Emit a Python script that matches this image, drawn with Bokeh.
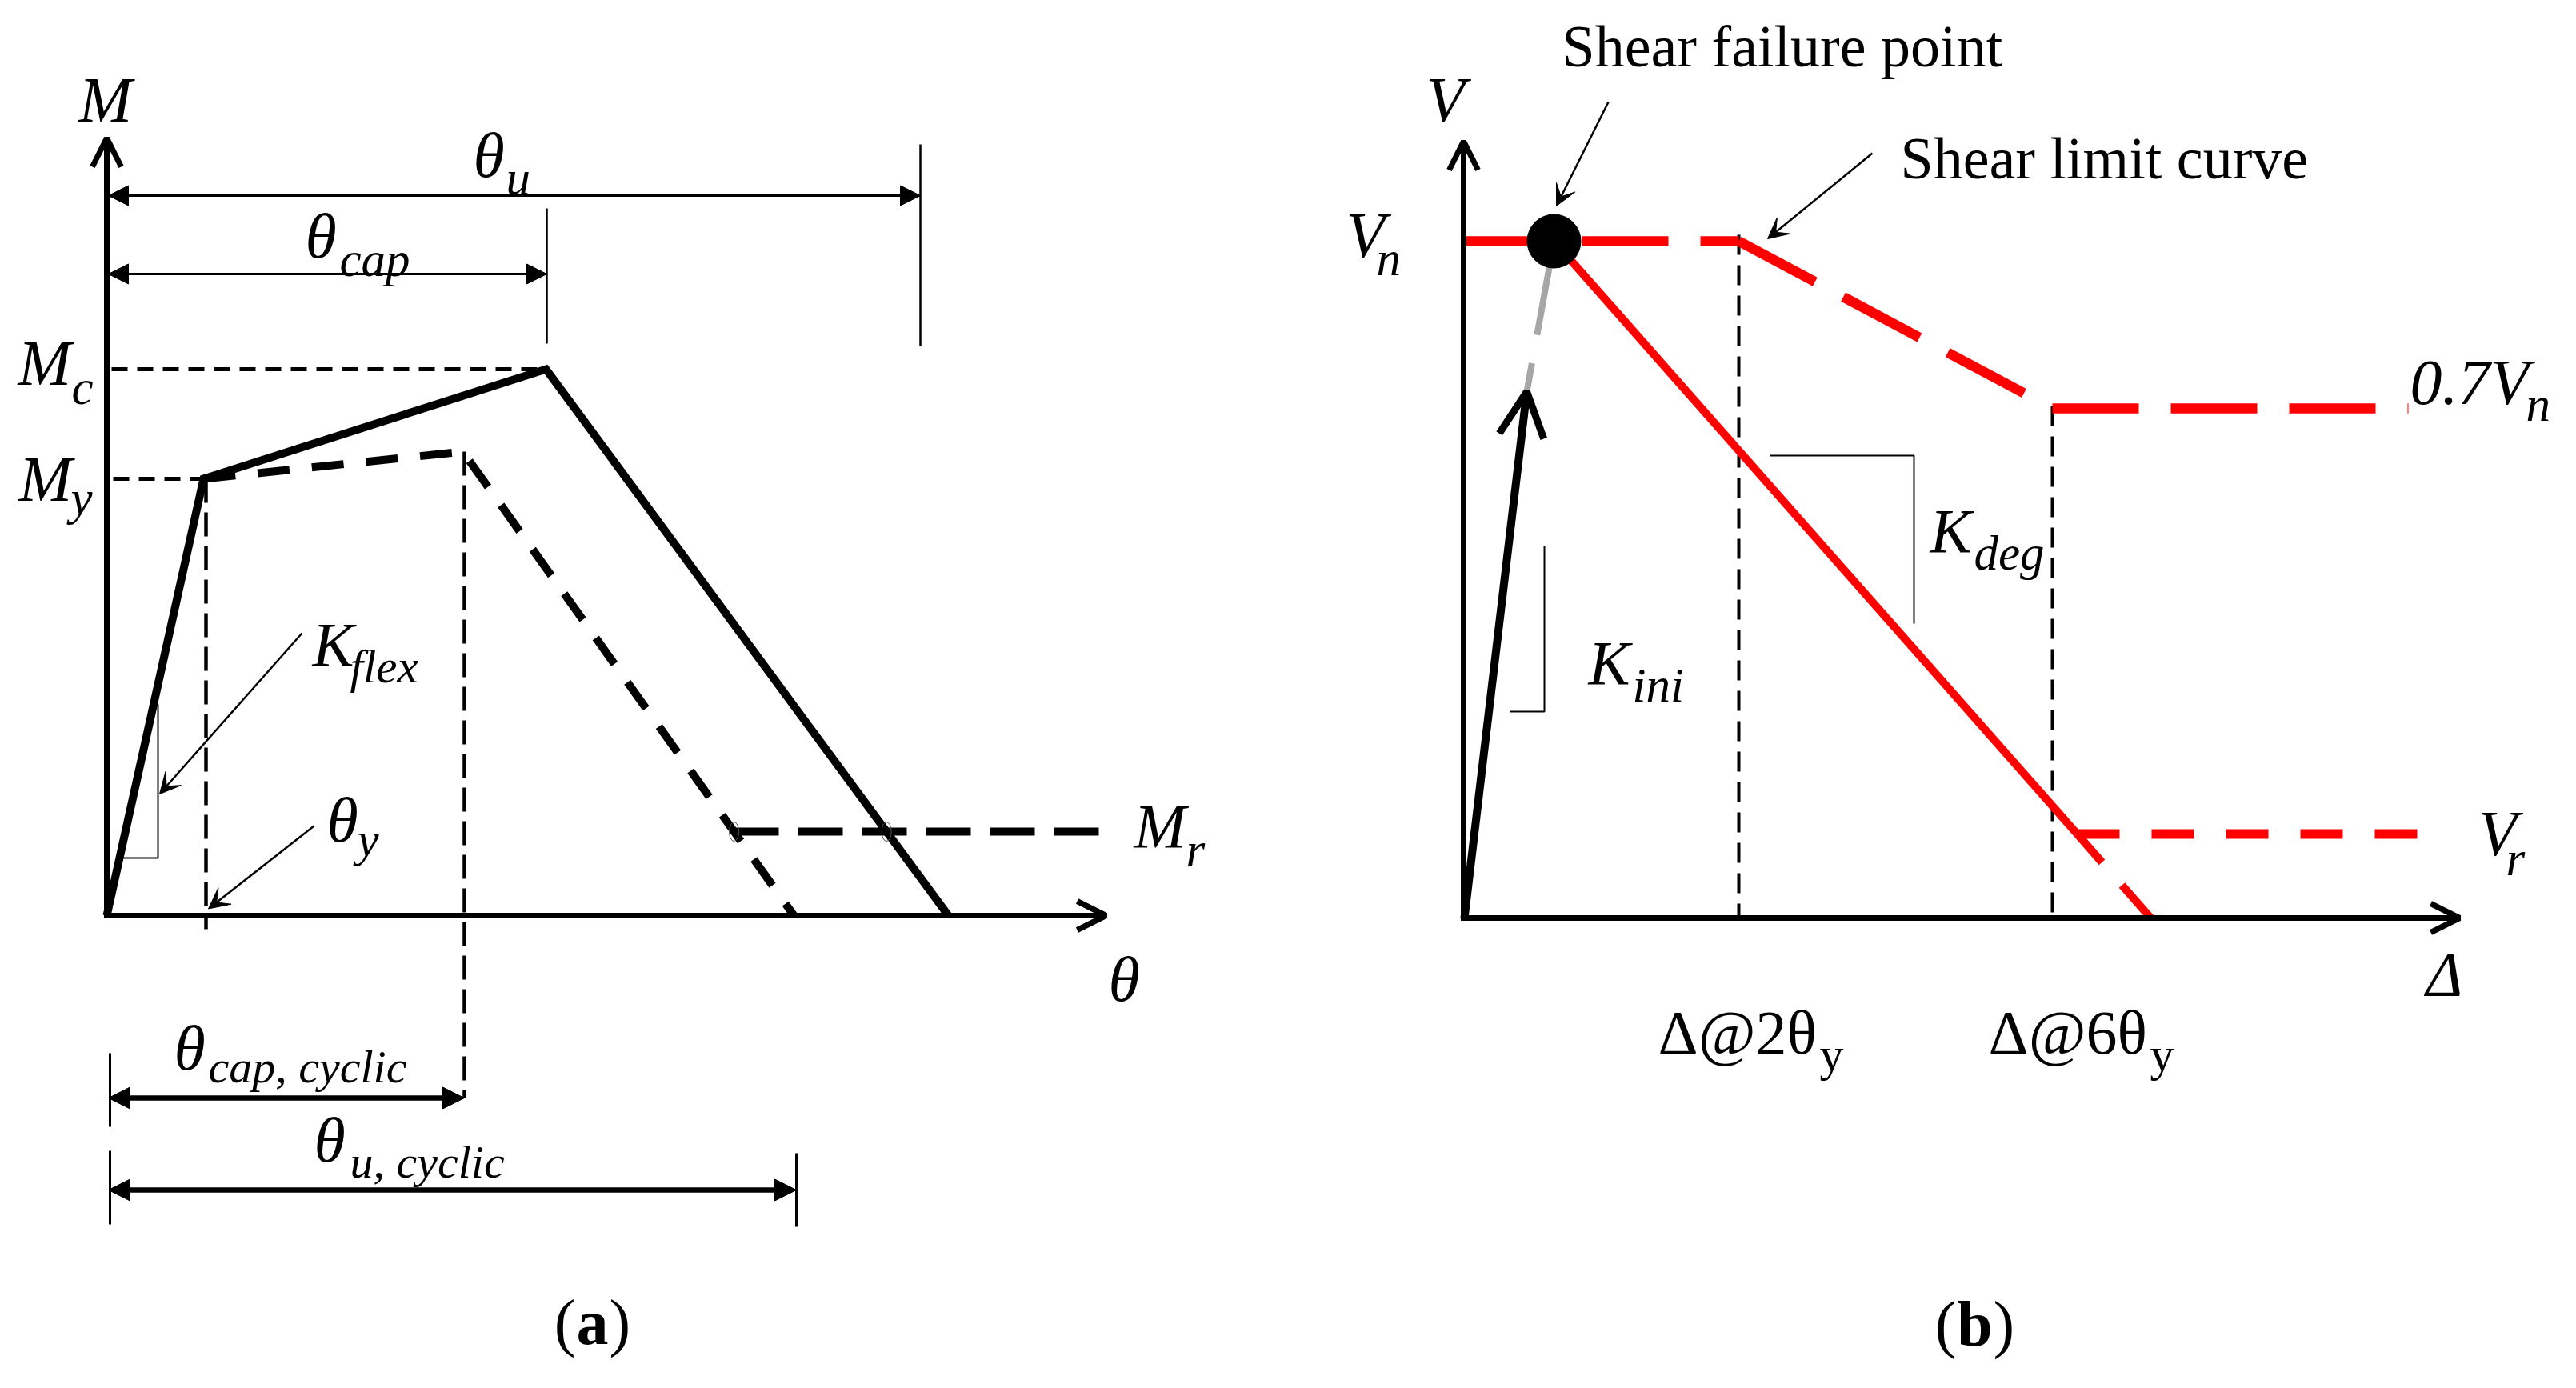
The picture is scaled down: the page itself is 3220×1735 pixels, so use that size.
from bokeh.plotting import figure
from bokeh.models import Range1d, Arrow, NormalHead, OpenHead, VeeHead
from bokeh.layouts import row
from bokeh.embed import file_html
from bokeh.resources import INLINE
from bokeh.core.properties import value

# ---------------- data (schematic units) ----------------
# Panel (a): moment - rotation backbone
theta_backbone = [0.0, 1.21, 5.49, 10.52]
M_backbone = [0.0, 5.46, 6.83, 0.0]
theta_cyclic = [1.21, 4.45, 8.59]
M_cyclic = [5.46, 5.80, 0.0]
theta_residual = [7.84, 12.44]
M_residual = [1.05, 1.05]
theta_y = 1.22
theta_cap = 5.50
theta_u = 10.17
theta_cap_cyclic = 4.47
theta_u_cyclic = 8.62
M_y = 5.46
M_c = 6.83
theta_axis_end = 12.49
M_axis_end = 9.72

# Panel (b): shear - displacement
delta_f = 1.13          # shear failure point
V_n = 8.46
delta_2 = 3.44          # Δ@2θy
delta_6 = 7.36          # Δ@6θy
V_07 = 6.37             # 0.7Vn level
limit_end = 11.81
V_r = 1.05
delta_r = 7.67          # degradation reaches Vr
delta_0 = 8.59          # degradation reaches zero
vr_end = 11.93
tip_delta, tip_V = 0.79, 6.58   # end of initial-stiffness arrow
delta_axis_end = 12.45
V_axis_end = 9.71

# ---------------- layout ----------------
H = 1719
WA, WB = 1600, 1604
OA = (141.0, 1152.0)
OB = (1837.0, 1155.0)
PX = 100.0
SERIF = "Liberation Serif"
RED = "#ff0000"


def make_fig(origin, page_left, w):
    ox, oy = origin
    p = figure(width=w, height=H,
               x_range=Range1d((page_left - ox) / PX, (page_left + w - ox) / PX),
               y_range=Range1d((oy - (8 + H)) / PX, (oy - 8) / PX),
               output_backend="svg", toolbar_location=None, min_border=0,
               x_axis_location=None, y_axis_location=None)
    p.grid.visible = False
    p.outline_line_color = None
    p.background_fill_color = "white"
    p.border_fill_color = "white"
    return p


def at(origin, X, Y):
    return ((X - origin[0]) / PX, (origin[1] - Y) / PX)


def label(p, origin, X, Y, s, size, style="italic", align="left"):
    # small upward correction of the rendered baseline (subscripts sit a bit lower)
    corr = 0.25 * size if size >= 70 else 0.25 * size - 5
    x, y = at(origin, X, Y - corr)
    p.text(x=[x], y=[y], text=[s], text_font=value(SERIF),
           text_font_size=value(f"{size}px"), text_font_style=style,
           text_align=align, text_baseline="alphabetic", text_color="black")


def arrow(p, x0, y0, x1, y1, lw, start=None, end=None, color="black"):
    p.add_layout(Arrow(x_start=x0, y_start=y0, x_end=x1, y_end=y1,
                       line_width=lw, line_color=color, start=start, end=end))


def nhead(size):
    return NormalHead(size=size, fill_color="black", line_color="black", line_width=1)


def vhead(size):
    return VeeHead(size=size, fill_color="black", line_color="black", line_width=1)


# ================= Panel (a) =================
pa = make_fig(OA, 8, WA)

# thin dashed guides
pa.segment(x0=[0.06], y0=[M_c], x1=[theta_cap - 0.06], y1=[M_c],
           line_color="black", line_width=5, line_dash="20 12")
pa.segment(x0=[0.08], y0=[M_y], x1=[theta_y], y1=[M_y],
           line_color="black", line_width=5, line_dash="20 12")
pa.segment(x0=[theta_y + 0.02], y0=[M_y], x1=[theta_y + 0.02], y1=[-0.17],
           line_color="black", line_width=4.5, line_dash="30 12")
pa.segment(x0=[theta_cap_cyclic], y0=[M_cyclic[1]], x1=[theta_cap_cyclic], y1=[-2.28],
           line_color="black", line_width=4.5, line_dash="30 12")

# K_flex slope triangle
pa.line([0.19, 0.64, 0.64], [0.72, 0.72, 2.64], line_color="black", line_width=2)

# curves
pa.line(theta_backbone, M_backbone, line_color="black", line_width=10, line_join="miter")
pa.line(theta_cyclic, M_cyclic, line_color="black", line_width=10, line_dash="40 28")
pa.line(theta_residual, M_residual, line_color="black", line_width=10, line_dash="56 24")

# tiny marks at the residual line ends
x_int = theta_backbone[2] + (M_backbone[2] - M_residual[0]) / M_backbone[2] * (theta_backbone[3] - theta_backbone[2])
pa.ellipse(x=[theta_residual[0], x_int], y=[M_residual[0], M_residual[0]], width=0.12, height=0.24,
           fill_color=None, line_color="#555555", line_width=1)

# axes
arrow(pa, 0, 0, theta_axis_end, 0, 7, end=OpenHead(size=36, line_width=7, line_color="black"))
arrow(pa, 0, -0.035, 0, M_axis_end, 7, end=OpenHead(size=36, line_width=7, line_color="black"))

# dimension lines on top
pa.segment(x0=[theta_u], y0=[9.64], x1=[theta_u], y1=[7.12], line_color="black", line_width=2.5)
pa.segment(x0=[theta_cap], y0=[8.84], x1=[theta_cap], y1=[7.15], line_color="black", line_width=2.5)
arrow(pa, 0.02, 9.0, theta_u, 9.0, 3, start=nhead(25), end=nhead(25))
arrow(pa, 0.02, 8.02, theta_cap, 8.02, 3, start=nhead(25), end=nhead(25))

# cyclic dimension lines below
pa.segment(x0=[0.04, 0.04, theta_u_cyclic], y0=[-1.72, -2.94, -2.97],
           x1=[0.04, 0.04, theta_u_cyclic], y1=[-2.64, -3.86, -3.89],
           line_color="black", line_width=3)
arrow(pa, 0.02, -2.28, theta_cap_cyclic, -2.28, 6.5, start=nhead(27), end=nhead(27))
arrow(pa, 0.02, -3.43, theta_u_cyclic, -3.43, 6.5, start=nhead(27), end=nhead(27))

# leader arrows
arrow(pa, 2.44, 3.53, 0.66, 1.52, 2.5, end=vhead(26))
arrow(pa, 2.59, 1.12, 1.27, 0.085, 2.5, end=vhead(26))

# labels
label(pa, OA, 106, 152, "M", 80)
label(pa, OA, 599, 221, "θ", 80)
label(pa, OA, 640, 240, "u", 61)
label(pa, OA, 389, 322, "θ", 80)
label(pa, OA, 432, 342, "cap", 61)
label(pa, OA, 30, 481, "M", 80)
label(pa, OA, 97, 502, "c", 61)
label(pa, OA, 31, 626, "M", 80)
label(pa, OA, 96, 640, "y", 61)
label(pa, OA, 398, 832, "K", 78)
label(pa, OA, 445, 850, "flex", 59)
label(pa, OA, 416, 1052, "θ", 80)
label(pa, OA, 454, 1067, "y", 61)
label(pa, OA, 1425, 1059, "M", 78)
label(pa, OA, 1490, 1080, "r", 61)
label(pa, OA, 1393, 1251, "θ", 80)
label(pa, OA, 225, 1337, "θ", 80)
label(pa, OA, 268, 1350, "cap, cyclic", 58)
label(pa, OA, 400, 1452, "θ", 80)
label(pa, OA, 445, 1469, "u, cyclic", 58)
label(pa, OA, 727, 1680, "(", 80, style="normal", align="right")
label(pa, OA, 748, 1680, "a", 80, style="bold", align="center")
label(pa, OA, 769, 1680, ")", 80, style="normal", align="left")

# ================= Panel (b) =================
pb = make_fig(OB, 8 + WA, WB)

# thin dashed verticals
pb.segment(x0=[delta_2, delta_6], y0=[V_n + 0.08, V_07 + 0.03], x1=[delta_2, delta_6], y1=[0, 0],
           line_color="black", line_width=4, line_dash="25 13")

# slope triangles
pb.line([0.58, 1.01, 1.01], [2.58, 2.58, 4.645], line_color="black", line_width=2)
pb.line([3.83, 5.63, 5.63], [5.78, 5.78, 3.68], line_color="black", line_width=2)

# grey continuation of initial stiffness
pb.line([delta_f, tip_delta], [V_n, tip_V], line_color="#a6a6a6", line_width=8, line_dash="119 36")

# shear limit curve (each segment restarts its dash)
pb.multi_line(xs=[[0, delta_2], [delta_2, delta_6], [delta_6, limit_end]],
              ys=[[V_n, V_n], [V_n, V_07], [V_07, V_07]],
              line_color=RED, line_width=12.5, line_dash="108 40")
# residual Vr
pb.line([delta_r, vr_end], [V_r, V_r], line_color=RED, line_width=12, line_dash="53 40")
# degradation
pb.line([delta_f, delta_r], [V_n, V_r], line_color=RED, line_width=10)
pb.line([delta_r, delta_0], [V_r, 0], line_color=RED, line_width=10, line_dash="47 38 60")

# shear failure point
pb.scatter([delta_f], [V_n], size=67, marker="circle", fill_color="black", line_color="black")

# initial stiffness arrow
arrow(pb, 0.01, 0.0, tip_delta, tip_V, 10, end=OpenHead(size=56, line_width=9, line_color="black"))

# axes
arrow(pb, 0, 0, delta_axis_end, 0, 7, end=OpenHead(size=36, line_width=7, line_color="black"))
arrow(pb, 0, -0.035, 0, V_axis_end, 7, end=OpenHead(size=36, line_width=7, line_color="black"))

# leader arrows
arrow(pb, 1.81, 10.20, 1.16, 8.90, 2.5, end=vhead(26))
arrow(pb, 5.11, 9.56, 3.80, 8.49, 2.5, end=vhead(26))

# labels
label(pb, OB, 1960, 84, "Shear failure point", 74, style="normal")
label(pb, OB, 2383, 224, "Shear limit curve", 74, style="normal")
label(pb, OB, 1790, 152, "V", 80)
label(pb, OB, 1690, 321, "V", 80)
label(pb, OB, 1728, 341, "n", 61)
label(pb, OB, 3020, 505, "0.7V", 80)
label(pb, OB, 3165, 523, "n", 61)
label(pb, OB, 3105, 1069, "V", 80)
label(pb, OB, 3140, 1091, "r", 61)
label(pb, OB, 2420, 690, "K", 78)
label(pb, OB, 2475, 709, "deg", 61)
label(pb, OB, 1993, 855, "K", 78)
label(pb, OB, 2048, 874, "ini", 61)
label(pb, OB, 3040, 1244, "Δ", 78)
label(pb, OB, 2080, 1317, "Δ@2θ", 78, style="normal")
label(pb, OB, 2282, 1335, "y", 60, style="normal")
label(pb, OB, 2493, 1317, "Δ@6θ", 78, style="normal")
label(pb, OB, 2695, 1335, "y", 60, style="normal")
label(pb, OB, 2453, 1682, "(", 80, style="normal", align="right")
label(pb, OB, 2476, 1682, "b", 80, style="bold", align="center")
label(pb, OB, 2499, 1682, ")", 80, style="normal", align="left")

layout = row(pa, pb)
open("out.html", "w").write(file_html(layout, INLINE))
